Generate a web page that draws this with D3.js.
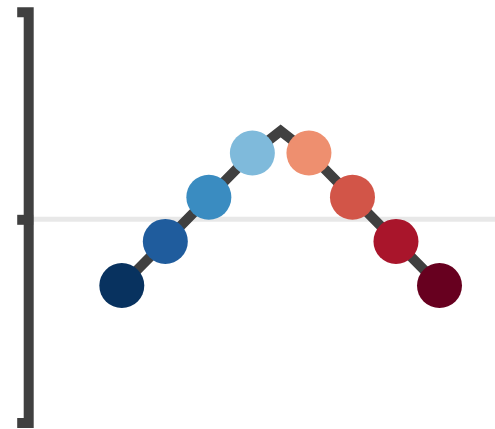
<!DOCTYPE html>
<html>
<head>
<meta charset="utf-8">
<script src="https://cdn.jsdelivr.net/npm/d3@7"></script>
<style>
  html, body { margin: 0; padding: 0; background: #fff; }
  svg { display: block; }
</style>
</head>
<body>
<svg id="chart" width="495" height="429"></svg>
<script>
// ---- data ----
const xValues = [-3.65, -2.65, -1.65, -0.65, 0.65, 1.65, 2.65, 3.65];
const yValues = [-1.5, -0.5, 0.5, 1.5, 1.5, 0.5, -0.5, -1.5];
const peakX = 0;
const peakY = 2.0;
const pointColors = ["#08325f", "#1f5c9d", "#3a8cc1", "#7fbadb", "#ee8f6f", "#d25548", "#a9152b", "#67001f"];
const yDomain = [-4.6, 4.7];
const yTickValues = [0];

// ---- layout ----
const W = 495, H = 429;
const svg = d3.select("#chart");

const x = d3.scaleLinear().domain([-3.65, 3.65]).range([121.8, 439.5]);
const y = d3.scaleLinear().domain(yDomain).range([422.5, 11.7]);
const axisX = 28.2;

// zero reference line
svg.append("line")
  .attr("x1", axisX).attr("x2", W)
  .attr("y1", y(0)).attr("y2", y(0))
  .attr("stroke", "#e8e8e8")
  .attr("stroke-width", 5);

// line data including the peak
const lineData = xValues.map((v, i) => ({x: v, y: yValues[i]}));
lineData.splice(4, 0, {x: peakX, y: peakY});

svg.append("path")
  .datum(lineData)
  .attr("fill", "none")
  .attr("stroke", "#404040")
  .attr("stroke-width", 10)
  .attr("stroke-linejoin", "miter")
  .attr("d", d3.line().x(d => x(d.x)).y(d => y(d.y)));

// circles
svg.append("g")
  .selectAll("circle")
  .data(xValues.map((v, i) => ({x: v, y: yValues[i], c: pointColors[i]})))
  .join("circle")
  .attr("cx", d => x(d.x))
  .attr("cy", d => y(d.y))
  .attr("r", 22.5)
  .attr("fill", d => d.c);

// y axis
const gAxis = svg.append("g")
  .attr("transform", `translate(${axisX},0)`)
  .call(d3.axisLeft(y).tickValues(yTickValues).tickSize(6).tickSizeOuter(6).tickFormat(""));
gAxis.selectAll("path, line")
  .attr("stroke", "#404040")
  .attr("stroke-width", 10)
  .attr("stroke-linecap", "square")
  .attr("stroke-linejoin", "miter");
</script>
</body>
</html>
